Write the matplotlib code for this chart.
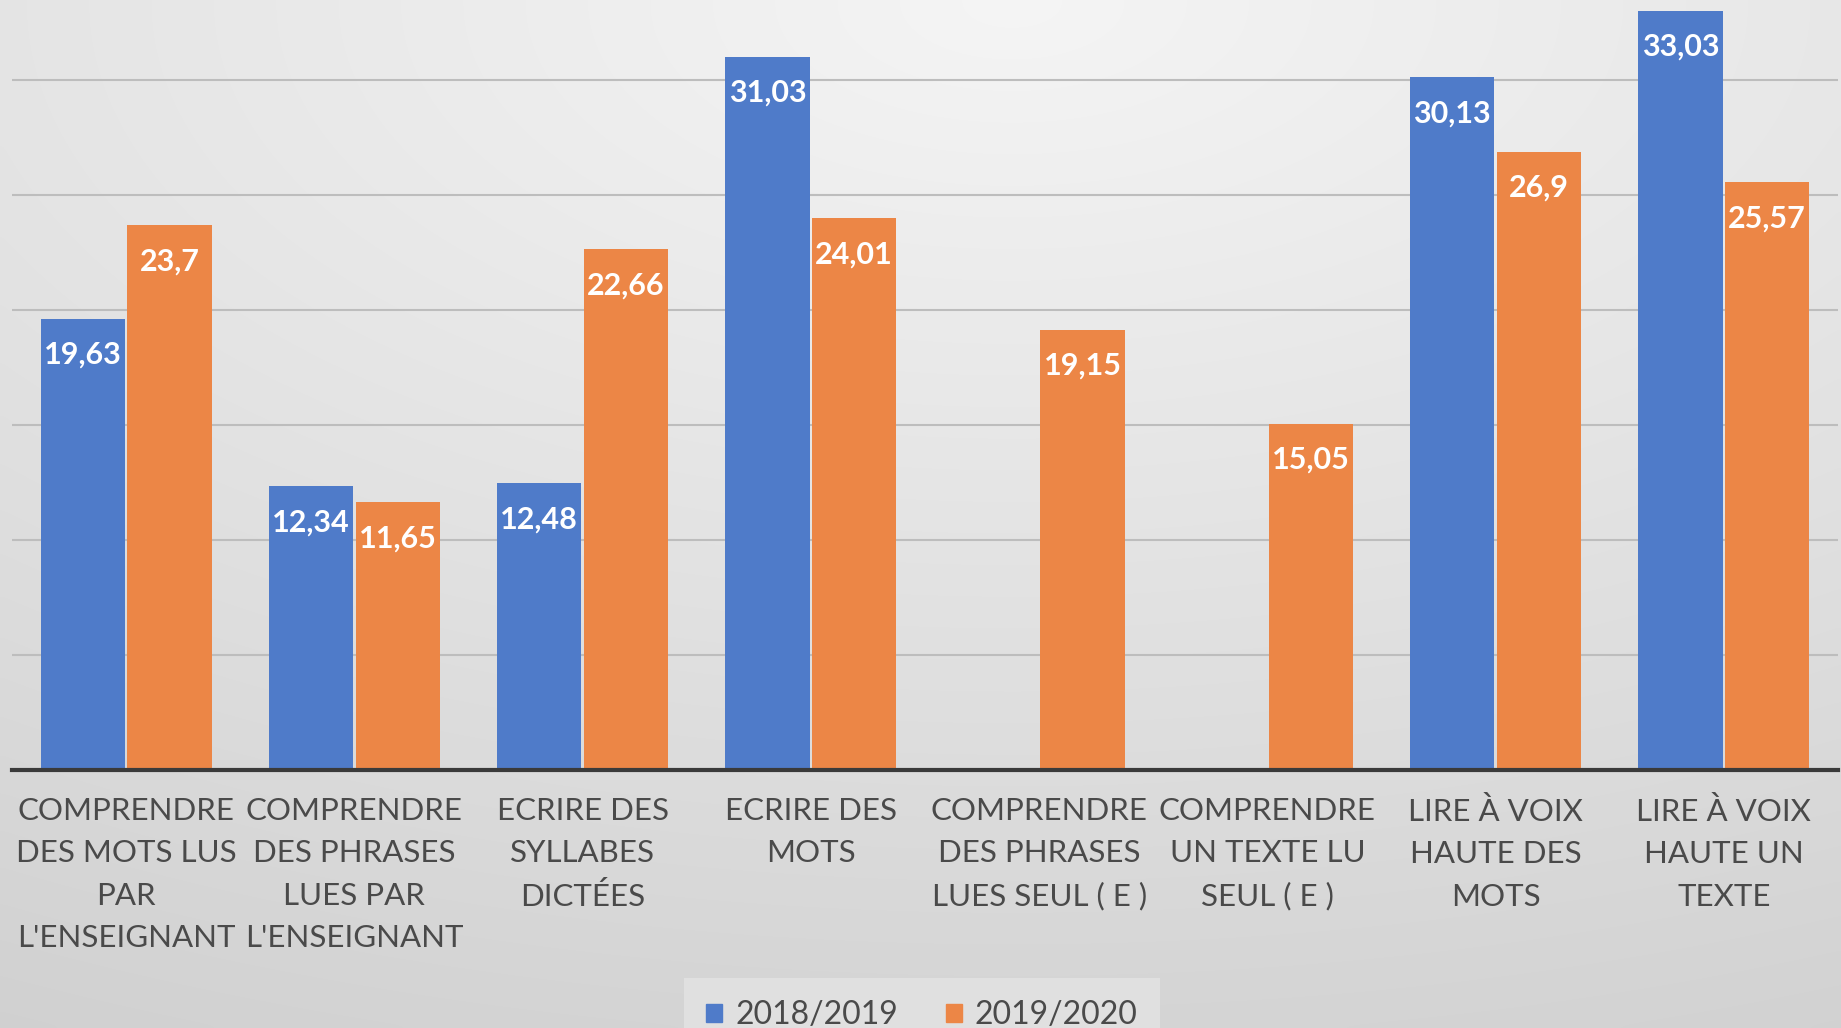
import numpy as np
import matplotlib
matplotlib.use("Agg")
import matplotlib.pyplot as plt
from matplotlib.patches import Patch
import matplotlib.transforms as mtransforms

categories = [
    "COMPRENDRE\nDES MOTS LUS\nPAR\nL'ENSEIGNANT",
    "COMPRENDRE\nDES PHRASES\nLUES PAR\nL'ENSEIGNANT",
    "ECRIRE DES\nSYLLABES\nDICTÉES",
    "ECRIRE DES\nMOTS",
    "COMPRENDRE\nDES PHRASES\nLUES SEUL ( E )",
    "COMPRENDRE\nUN TEXTE LU\nSEUL ( E )",
    "LIRE À VOIX\nHAUTE DES\nMOTS",
    "LIRE À VOIX\nHAUTE UN\nTEXTE",
]
series_names = ["2018/2019", "2019/2020"]
values_2018 = [19.63, 12.34, 12.48, 31.03, np.nan, np.nan, 30.13, 33.03]
values_2019 = [23.7, 11.65, 22.66, 24.01, 19.15, 15.05, 26.9, 25.57]

blue = "#4f7bc9"
orange = "#ec8646"
FONT = "Lato"

W, H = 1841, 1028
fig = plt.figure(figsize=(W / 100, H / 100), dpi=100)

# background gradient
bg = fig.add_axes([0, 0, 1, 1], zorder=-10)
yy, xx = np.mgrid[0:1:200j, 0:1:300j]
d = np.sqrt(((xx - 0.55) * 1.0) ** 2 + (yy * 1.1) ** 2)
val = 0.96 - 0.15 * np.clip(d, 0, 1.3) / 1.3
bg.imshow(np.dstack([val, val, val]), aspect="auto", extent=[0, 1, 1, 0], interpolation="bicubic")
bg.set_axis_off()

ax = fig.add_axes([12 / W, (H - 770) / H, (1838 - 12) / W, 770 / H])
ax.patch.set_alpha(0)
x = np.arange(len(categories))
bw = 0.37
b1 = ax.bar(x - bw / 2 - 0.005, values_2018, bw, color=blue, zorder=3)
b2 = ax.bar(x + bw / 2 + 0.005, values_2019, bw, color=orange, zorder=3)

ax.set_xlim(-0.5, len(categories) - 0.5)
ax.set_ylim(0, 33.5)
ax.set_yticks([5, 10, 15, 20, 25, 30])
ax.yaxis.grid(True, color="#bdbdbd", linewidth=1.5, zorder=0)
ax.tick_params(axis="both", length=0, labelleft=False, labelbottom=False)
for s in ["top", "right", "left"]:
    ax.spines[s].set_visible(False)
ax.spines["bottom"].set_color("#3a3a3a")
ax.spines["bottom"].set_linewidth(3)
ax.spines["bottom"].set_zorder(5)

def fmt(v):
    s = f"{v:.2f}".rstrip("0").rstrip(".")
    return s.replace(".", ",")

for bars, vals in ((b1, values_2018), (b2, values_2019)):
    for rect, v in zip(bars, vals):
        if np.isnan(v):
            continue
        ax.annotate(fmt(v), (rect.get_x() + rect.get_width() / 2, v),
                    xytext=(0, -36 * 0.72), textcoords="offset points",
                    ha="center", va="center", color="white", fontsize=22,
                    fontweight="bold", family=FONT, zorder=6)

trans = mtransforms.blended_transform_factory(ax.transData, fig.transFigure)
for i, lab in enumerate(categories):
    ax.text(i, (H - 797) / H, lab, transform=trans, ha="center", va="top",
            fontsize=22.5, color="#4a4a4a", family=FONT, linespacing=1.62,
            multialignment="center")

handles = [Patch(color=blue, label=series_names[0]), Patch(color=orange, label=series_names[1])]
leg = fig.legend(handles=handles, loc="center", bbox_to_anchor=(922 / W, (H - 1015) / H),
                 ncol=2, frameon=True, handlelength=0.5, handleheight=0.5,
                 handletextpad=0.4, columnspacing=1.5, borderpad=0.7,
                 prop={"family": FONT, "size": 23})
leg.get_frame().set_facecolor("#e4e4e4")
leg.get_frame().set_edgecolor("none")
leg.get_frame().set_boxstyle("square", pad=0)
for t in leg.get_texts():
    t.set_color("#4a4a4a")

fig.savefig("out.png", dpi=100)
